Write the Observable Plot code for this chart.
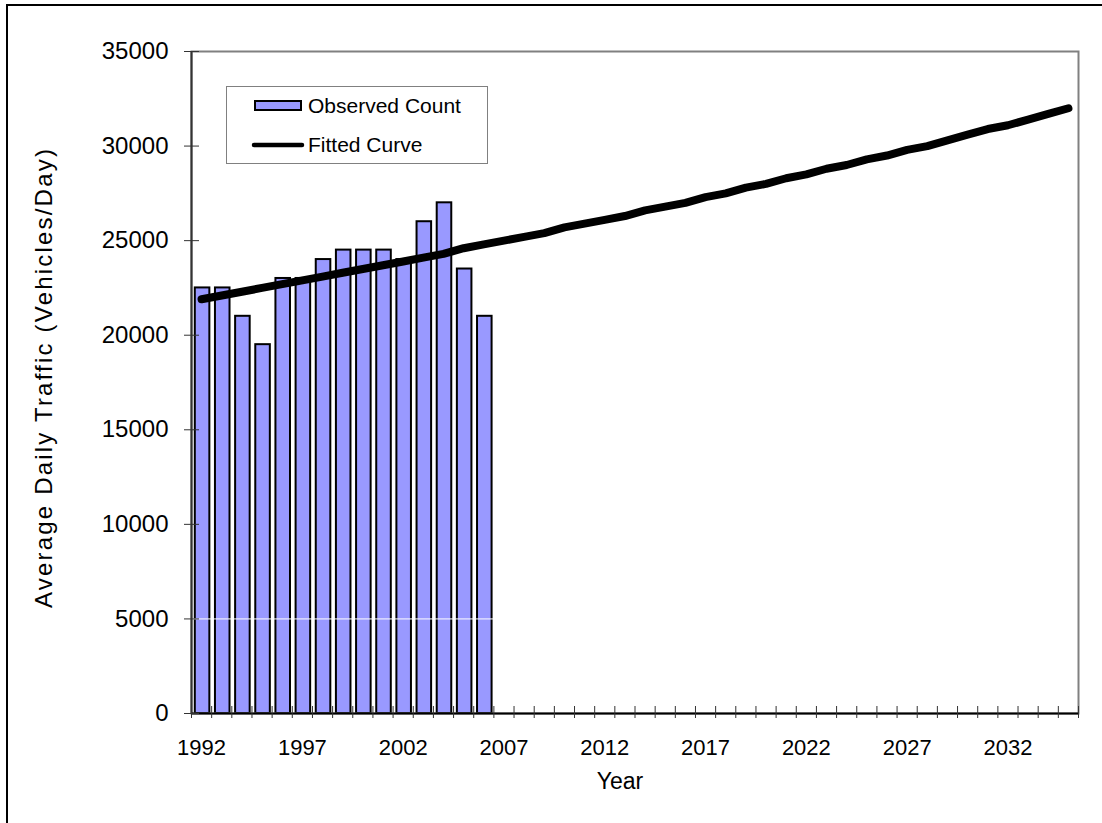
<!DOCTYPE html>
<html>
<head>
<meta charset="utf-8">
<script src="https://cdn.jsdelivr.net/npm/d3@7"></script>
<script src="https://cdn.jsdelivr.net/npm/@observablehq/plot@0.6"></script>
<style>
html, body { margin: 0; padding: 0; background: #fff; overflow: hidden; }
#wrap { position: relative; width: 1102px; height: 823px; font-family: "Liberation Sans", Arial, sans-serif; }
#outer { position: absolute; left: 6px; top: 4px; width: 1300px; height: 1000px; border: 2px solid #000; box-sizing: border-box; pointer-events: none; }
#legend { position: absolute; left: 226px; top: 86px; }
#chart svg { display: block; }
</style>
</head>
<body>
<div id="wrap">
  <div id="chart"></div>
  <div id="legend"></div>
  <div id="outer"></div>
</div>
<script>
// Observed counts
const obsYears = [1992, 1993, 1994, 1995, 1996, 1997, 1998, 1999, 2000, 2001, 2002, 2003, 2004, 2005, 2006];
const obsCounts = [22500, 22500, 21000, 19500, 23000, 23000, 24000, 24500, 24500, 24500, 24000, 26000, 27000, 23500, 21000];

// Fitted curve
const fitYears = [1992, 1993, 1994, 1995, 1996, 1997, 1998, 1999, 2000, 2001, 2002, 2003, 2004, 2005, 2006,
  2007, 2008, 2009, 2010, 2011, 2012, 2013, 2014, 2015, 2016, 2017, 2018, 2019, 2020, 2021,
  2022, 2023, 2024, 2025, 2026, 2027, 2028, 2029, 2030, 2031, 2032, 2033, 2034, 2035];
const fitValues = [21900, 22100, 22300, 22500, 22700, 22900, 23100, 23300, 23500, 23700, 23900, 24100, 24300, 24600, 24800,
  25000, 25200, 25400, 25700, 25900, 26100, 26300, 26600, 26800, 27000, 27300, 27500, 27800, 28000, 28300,
  28500, 28800, 29000, 29300, 29500, 29800, 30000, 30300, 30600, 30900, 31100, 31400, 31700, 32000];

// Axes
const xLabelYears = [1992, 1997, 2002, 2007, 2012, 2017, 2022, 2027, 2032];
const yTicks = [0, 5000, 10000, 15000, 20000, 25000, 30000, 35000];
const seriesNames = ["Observed Count", "Fitted Curve"];
const xTitle = "Year";
const yTitle = "Average Daily Traffic (Vehicles/Day)";

const obs = obsYears.map((y, i) => ({year: y, count: obsCounts[i]}));
const fit = fitYears.map((y, i) => ({year: y, value: fitValues[i]}));
const xMin = fitYears[0] - 0.5, xMax = fitYears[fitYears.length - 1] + 0.5;
const boundaries = d3.range(xMin, xMax + 0.01, 1);

const font = "'Liberation Sans', Arial, sans-serif";

const chart = Plot.plot({
  width: 1102,
  height: 823,
  marginLeft: 191,
  marginRight: 24,
  marginTop: 51,
  marginBottom: 110,
  x: {domain: [xMin, xMax]},
  y: {domain: [0, 35000]},
  style: {fontFamily: font, background: "transparent", color: "#000"},
  marks: [
    Plot.rectY(obs, {x1: d => d.year - 0.5, x2: d => d.year + 0.5, y: "count", fill: "#9999FF", stroke: "#000", strokeWidth: 2, insetLeft: 2.8, insetRight: 2.8, dx: 1}),
    Plot.ruleY([5000], {stroke: "#fff", strokeWidth: 1}),
    Plot.line(fit, {x: "year", y: "value", stroke: "#000", strokeWidth: 8, strokeLinecap: "round", strokeLinejoin: "round"}),
    Plot.frame({stroke: "#808080", strokeWidth: 2}),
    Plot.ruleX([xMin], {stroke: "#333", strokeWidth: 2}),
    Plot.ruleY([0], {stroke: "#000", strokeWidth: 2}),
    Plot.axisY({ticks: yTicks, tickSize: 15, dx: 8, text: null, stroke: "#333", label: null}),
    Plot.axisY({ticks: yTicks, tickSize: 0, tickPadding: 23, tickFormat: d => String(d), fontSize: 24, fill: "#000", label: null}),
    Plot.axisX({ticks: boundaries, tickSize: 12, dy: -7, text: null, stroke: "#333", label: null}),
    Plot.axisX({ticks: xLabelYears, tickSize: 0, tickPadding: 26, tickFormat: d => String(d), fontSize: 22, fill: "#000", label: null}),
    Plot.text([xTitle], {frameAnchor: "bottom", dx: -15, dy: 75, fontSize: 23, fill: "#000"}),
    Plot.text([yTitle], {frameAnchor: "left", textAnchor: "middle", rotate: -90, dx: -147, dy: -5, fontSize: 24, fill: "#000"})
  ]
});
d3.select(chart).selectAll("text").filter(function() { return this.textContent === yTitle; })
  .style("letter-spacing", "2.2px");
document.getElementById("chart").appendChild(chart);

// Legend
const lw = 262, lh = 78;
const leg = d3.select("#legend").append("svg").attr("width", lw).attr("height", lh)
  .style("font-family", font);
leg.append("rect").attr("x", 0.5).attr("y", 0.5).attr("width", lw - 1).attr("height", lh - 1)
  .attr("fill", "#fff").attr("stroke", "#808080").attr("stroke-width", 1);
leg.append("rect").attr("x", 29).attr("y", 15).attr("width", 46).attr("height", 9)
  .attr("fill", "#9999FF").attr("stroke", "#000").attr("stroke-width", 2);
leg.append("text").attr("x", 82).attr("y", 27).attr("font-size", 21).text(seriesNames[0]);
leg.append("line").attr("x1", 28).attr("x2", 76).attr("y1", 59).attr("y2", 59)
  .attr("stroke", "#000").attr("stroke-width", 4.5).attr("stroke-linecap", "round");
leg.append("text").attr("x", 82).attr("y", 66).attr("font-size", 21).text(seriesNames[1]);
</script>
</body>
</html>
